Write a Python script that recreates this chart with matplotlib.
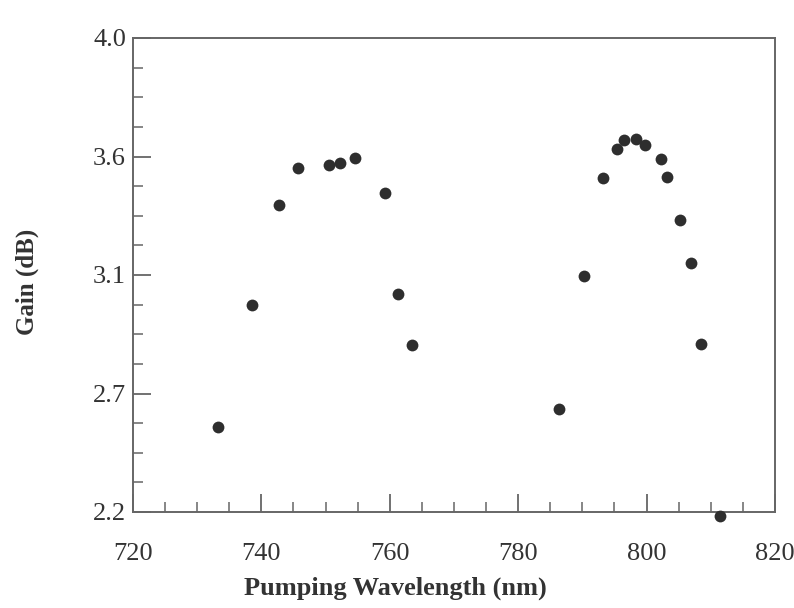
import matplotlib.pyplot as plt
import numpy as np

# Gain vs pumping wavelength
wavelength = [733.2, 738.5, 742.7, 745.7, 750.5, 752.2, 754.6, 759.3, 761.3, 763.5,
              786.4, 790.2, 793.2, 795.4, 796.5, 798.3, 799.8, 802.2, 803.2, 805.2,
              806.9, 808.5, 811.4]
gain = [2.523, 2.986, 3.366, 3.506, 3.518, 3.525, 3.544, 3.412, 3.028, 2.834,
        2.591, 3.096, 3.468, 3.579, 3.613, 3.617, 3.594, 3.541, 3.472, 3.309,
        3.146, 2.838, 2.185]

x_ticks = [720, 740, 760, 780, 800, 820]
y_ticks = [2.2, 2.65, 3.1, 3.55, 4.0]
y_tick_labels = ["2.2", "2.7", "3.1", "3.6", "4.0"]

plt.rcParams['font.family'] = ['Liberation Serif', 'DejaVu Serif']

fig = plt.figure(figsize=(7.94, 6.08), dpi=100)
ax = fig.add_axes([133 / 794, 1 - 512 / 608, (775 - 133) / 794, (512 - 38) / 608])

ax.plot(wavelength, gain, 'o', color='#2e2e2e', markersize=8.5, markeredgewidth=0,
        clip_on=False, zorder=3)

ax.set_xlim(720, 820)
ax.set_ylim(2.2, 4.0)
ax.set_xticks(x_ticks)
ax.set_xticks(np.arange(720, 821, 5), minor=True)
ax.set_yticks(y_ticks)
ax.set_yticklabels(y_tick_labels)
ax.set_yticks(np.arange(2.2, 4.001, 0.1125), minor=True)

for s in ax.spines.values():
    s.set_color('#666666')
    s.set_linewidth(1.4)

ax.tick_params(which='major', direction='in', length=13, width=1.3, color='#666666',
               labelsize=19, labelcolor='#333333')
ax.tick_params(which='minor', direction='in', length=7, width=1.1, color='#666666')
ax.tick_params(axis='x', which='major', pad=22)
ax.tick_params(axis='y', which='major', pad=5)

ax.set_xlabel("Pumping Wavelength (nm)", fontsize=19, fontweight='bold', color='#333333')
ax.set_ylabel("Gain (dB)", fontsize=18, fontweight='bold', color='#333333')
ax.xaxis.set_label_coords((395 - 133) / 642, -(577 - 512) / 474)
ax.yaxis.set_label_coords(-(133 - 39) / 642, (512 - 282) / 474)

fig.savefig("out.png", dpi=100)
